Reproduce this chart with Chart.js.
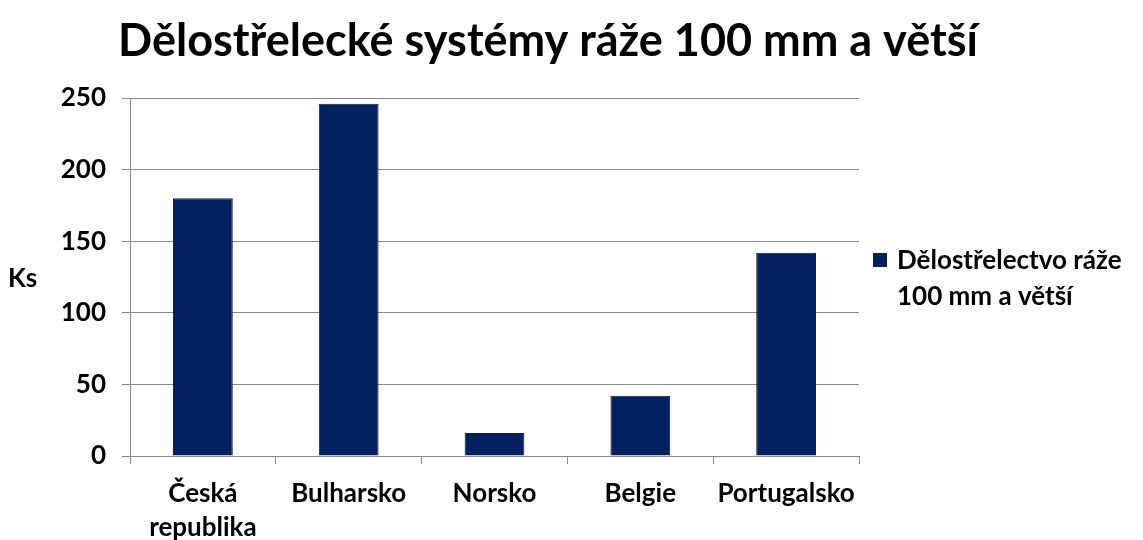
<!DOCTYPE html>
<html>
<head>
<meta charset="utf-8">
<script src="https://cdn.jsdelivr.net/npm/chart.js@4"></script>
<style>
  html, body { margin: 0; padding: 0; background: #fff; }
  #wrap { width: 1143px; height: 540px; }
</style>
</head>
<body>
<div id="wrap"><canvas id="chart"></canvas></div>
<script>
// data
const categories = [['Česká', 'republika'], 'Bulharsko', 'Norsko', 'Belgie', 'Portugalsko']
const seriesName = 'Dělostřelectvo ráže 100 mm a větší'
const seriesValues = [180, 246, 16, 42, 142]
const yTicks = [0, 50, 100, 150, 200, 250]

const FONT = 'Lato, "Open Sans", sans-serif'
const barColor = '#002060'

// title + flat y axis title drawn by hand, like the original
const textPlugin = {
  id: 'texts',
  afterDraw(chart) {
    const { ctx, chartArea } = chart
    ctx.save()
    ctx.fillStyle = '#000'
    ctx.textBaseline = 'middle'
    ctx.textAlign = 'center'
    ctx.font = 'bold 45px ' + FONT
    ctx.fillText('Dělostřelecké systémy ráže 100 mm a větší', 548, 41)
    ctx.textAlign = 'left'
    ctx.font = 'bold 26px ' + FONT
    ctx.fillText('Ks', 8, (chartArea.top + chartArea.bottom) / 2 + 2)
    ctx.restore()
  }
}

// right-hand legend with wrapped text
const sideLegend = {
  id: 'sideLegend',
  afterDraw(chart) {
    const { ctx, chartArea } = chart
    const ds = chart.data.datasets[0]
    const x = chartArea.right + 14
    const yMid = (chartArea.top + chartArea.bottom) / 2
    ctx.save()
    ctx.fillStyle = ds.backgroundColor
    ctx.strokeStyle = '#222'
    ctx.lineWidth = 1
    ctx.fillRect(x, yMid - 24, 14, 14)
    ctx.strokeRect(x + 0.5, yMid - 23.5, 13, 13)
    ctx.font = 'bold 26px ' + FONT
    ctx.fillStyle = '#000'
    ctx.textBaseline = 'middle'
    ctx.fillText('Dělostřelectvo ráže', x + 24, yMid - 16)
    ctx.fillText('100 mm a větší', x + 24, yMid + 20)
    ctx.restore()
  }
}

new Chart(document.getElementById('chart'), {
  type: 'bar',
  data: {
    labels: categories,
    datasets: [{
      label: seriesName,
      data: seriesValues,
      backgroundColor: barColor,
      borderColor: '#1b1b2b',
      borderWidth: 1,
      barPercentage: 0.41,
      categoryPercentage: 1
    }]
  },
  options: {
    responsive: true,
    maintainAspectRatio: false,
    animation: false,
    layout: { padding: { top: 98, right: 284, bottom: 0, left: 0 } },
    plugins: {
      legend: { display: false },
      tooltip: { enabled: false },
      title: { display: false }
    },
    scales: {
      x: {
        offset: true,
        grid: { display: true, drawOnChartArea: false, drawTicks: true, tickLength: 8, offset: true, color: '#888' },
        border: { color: '#888' },
        ticks: { color: '#000', font: { family: FONT, size: 26, weight: 'bold', lineHeight: 1.3 }, padding: 13, maxRotation: 0 },
        afterFit(scale) { scale.height = 84 }
      },
      y: {
        min: 0,
        max: 250,
        afterBuildTicks(scale) { scale.ticks = yTicks.map(v => ({ value: v })) },
        grid: { color: '#888', tickLength: 8 },
        border: { color: '#888' },
        ticks: { color: '#000', font: { family: FONT, size: 26, weight: 'bold' }, padding: 16 },
        afterFit(scale) { scale.width = 130 }
      }
    }
  },
  plugins: [textPlugin, sideLegend]
})
</script>
</body>
</html>
